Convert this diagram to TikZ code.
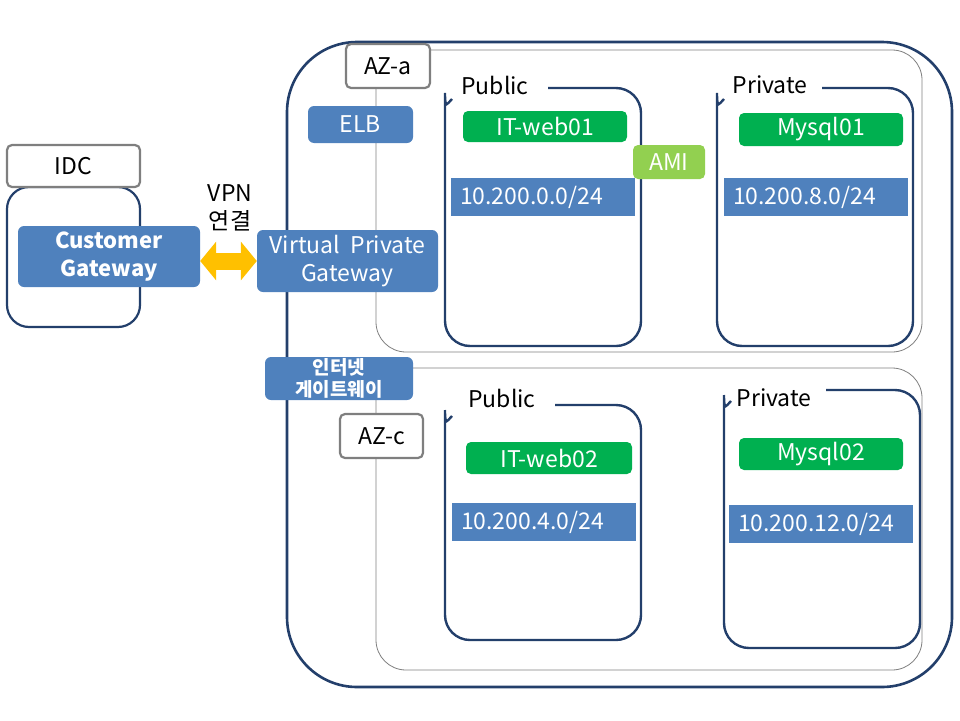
\documentclass[tikz,border=0pt]{standalone}
\usepackage{fontspec}
\setmainfont{Noto Sans CJK KR}
\usetikzlibrary{arrows.meta}
\definecolor{navy}{HTML}{233F6B}
\definecolor{tabgray}{HTML}{7F7F7F}
\definecolor{awsblue}{HTML}{4F81BD}
\definecolor{awsgreen}{HTML}{00B050}
\definecolor{amigreen}{HTML}{92D050}
\definecolor{vpnorange}{HTML}{FFC000}

\begin{document}
\begin{tikzpicture}[x=1pt, y=-1pt,
    every node/.style={font=\fontsize{23}{28}\selectfont},
    region/.style={draw=navy, line width=2.6pt},
    azline/.style={draw=tabgray, line width=0.8pt, rounded corners=30},
    subbox/.style={draw=navy, line width=2.4pt, rounded corners=25},
    tab/.style={draw=tabgray, line width=2.2pt, rounded corners=5, fill=white},
    bluebox/.style={fill=awsblue, text=white, rounded corners=6, align=center},
    greenbox/.style={fill=awsgreen, text=white, rounded corners=5, minimum height=32},
    subnet/.style={fill=awsblue, text=white, text width=166, inner xsep=9, minimum height=38, align=left},
    vpn/.style={draw=vpnorange, line width=17pt, {Triangle[length=16pt, width=38pt]}-{Triangle[length=16pt, width=38pt]}}]
    \useasboundingbox (0,0) rectangle (960,720);

    % IDC
    \draw[region, line width=2.2pt, rounded corners=22] (7,187) rectangle (140,327);
    \node[tab, minimum width=133, minimum height=42] (idc) at (73.5,166) {IDC};

    % VPC and availability zones
    \draw[region, rounded corners=70] (287,42) rectangle (952,687);
    \draw[azline] (376,50) rectangle (922,352);
    \draw[azline] (376,368) rectangle (922,670);

    % subnets
    \foreach \l/\r/\t/\b/\g/\lx/\ly/\n/\txt in {
        445/641/88/346/548/495/85/puba/Public,
        717/913/88/346/822/770/85/pria/Private,
        445/641/405/640/555/502/398/pubc/Public,
        724/920/390/648/826/774/398/pric/Private}{
        \draw[subbox] (\l+7,\t+11) .. controls (\l+2,\t+16) and (\l,\t+22) .. (\l,\t+30)
            |- (\r,\b) |- (\g,\t);
        \node (\n) at (\lx,\ly) {\txt};
    }

    \node[tab, minimum width=84, minimum height=44] (aza) at (388,66) {AZ-a};
    \node[tab, minimum width=83, minimum height=44] (azc) at (381.5,436) {AZ-c};

    \node[bluebox, minimum width=105, minimum height=37] (elb) at (360.5,124.5) {ELB};
    \node[bluebox, minimum width=148, minimum height=43, inner sep=0pt,
        font=\fontsize{19}{22}\selectfont\bfseries] (igw) at (339,378.5) {인터넷\\게이트웨이};

    % gateways
    \node[bluebox, minimum width=182, minimum height=61, font=\fontsize{22}{28}\selectfont\bfseries] (cgw) at (109,256.5) {Customer\\Gateway};
    \node[bluebox, minimum width=181, minimum height=62] (vgw) at (347.5,261) {Virtual~~Private\\Gateway};
    \draw[vpn] (cgw.east |- vgw.west) -- (vgw.west);
    \node[align=center, inner sep=0pt] (vpnlabel) at (230,208) {VPN\\연결};

    % instances
    \node[greenbox, minimum width=164, minimum height=31] (web01) at (545,126.5) {IT-web01};
    \node[greenbox, minimum width=164, minimum height=33] (mysql01) at (821,129.5) {Mysql01};
    \node[greenbox, minimum width=166] (web02) at (549,458) {IT-web02};
    \node[greenbox, minimum width=164] (mysql02) at (821,454) {Mysql02};
    \node[fill=amigreen, text=white, rounded corners=5, minimum width=72, minimum height=34] (ami) at (669,162) {AMI};

    \node[subnet] (net0) at (543,197) {10.200.0.0/24};
    \node[subnet] (net8) at (816,197) {10.200.8.0/24};
    \node[subnet] (net4) at (544,522) {10.200.4.0/24};
    \node[subnet] (net12) at (821,524) {10.200.12.0/24};
\end{tikzpicture}
\end{document}
